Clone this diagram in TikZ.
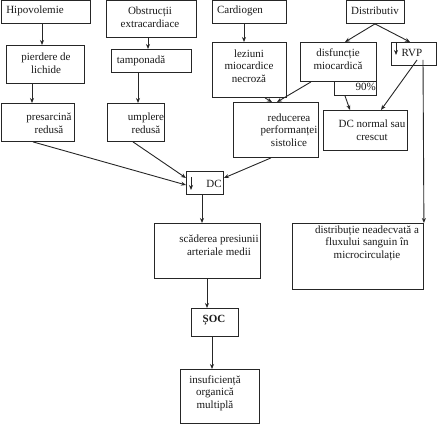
\documentclass[tikz,border=0pt]{standalone}
\usepackage{fontspec}
\setmainfont{Liberation Serif}
\usetikzlibrary{arrows.meta}
\newcommand\mybox[5]{\node[box, minimum width={#4-#2}, minimum height={#5-#3}] (#1) at (#2,#3) {};}
\begin{document}
\begin{tikzpicture}[x=1pt,y=-1pt,
 box/.style={draw=black!85, line width=0.9pt, rectangle, inner sep=0pt, anchor=north west, fill=white},
 txt/.style={align=center, inner sep=0pt, font=\fontsize{11}{12.6}\selectfont, text=black!90},
 arr/.style={-{Stealth[length=5pt,width=4pt]}, line width=0.9pt, draw=black!85}]
\useasboundingbox (0,0) rectangle (438,430);
% 90% box (partly hidden)
\mybox{p90}{334}{70}{376}{95}
\node[txt, anchor=base east] (tp90) at (376,90.5) {90\%};
% boxes
\mybox{hip}{0.5}{0}{90}{23}
\mybox{obs}{106}{0}{196}{37}
\mybox{card}{212}{0}{286}{23}
\mybox{dist}{346}{0}{404}{23}
\mybox{pier}{6}{45}{84}{83}
\mybox{tamp}{111}{49}{191}{72}
\mybox{lez}{212}{42}{286}{97}
\mybox{disf}{300}{42}{376}{81}
\mybox{rvp}{391}{42}{436}{65}
\mybox{pres}{1}{103}{74}{141}
\mybox{umpl}{107}{103}{164}{141}
\mybox{red}{233}{102}{318}{157}
\mybox{dcn}{323}{110}{407}{150}
\mybox{dc}{186}{171}{223}{194}
\mybox{scad}{154}{223}{260}{278}
\mybox{soc}{191}{308}{238}{336}
\mybox{insuf}{180}{369}{259}{423}
\mybox{distr}{292}{223}{423}{289}
% texts
\node[txt] (thip) at (35,11) {Hipovolemie};
\node[txt] (tobs) at (150,17) {Obstrucții\\extracardiace};
\node[txt] (tcard) at (240,11) {Cardiogen};
\node[txt] (tdist) at (375,11) {Distributiv};
\node[txt] (tpier) at (46,63) {pierdere de\\lichide};
\node[txt] (ttamp) at (141,61) {tamponadă};
\node[txt] (tlez) at (249,66) {leziuni\\miocardice\\necroză};
\node[txt] (tdisf) at (338,59) {disfuncție\\miocardică};
\node[txt] (trvp) at (412,53) {RVP};
\node[txt] (tpres) at (49,123) {presarcină\\redusă};
\node[txt] (tumpl) at (146,123) {umplere\\redusă};
\node[txt] (tred) at (289,130) {reducerea\\performanței\\sistolice};
\node[txt] (tdcn) at (372,130) {DC normal sau\\crescut};
\node[txt] (tdc) at (214,184) {DC};
\node[txt] (tscad) at (219,245) {scăderea presiunii\\arteriale medii};
\node[txt] (tsoc) at (214,320) {\bfseries ȘOC};
\node[txt] (tinsuf) at (215,393) {insuficiență\\organică\\multiplă};
\node[txt] (tdistr) at (367,243) {distribuție neadecvată a\\fluxului sanguin în\\microcirculație};
% inner small arrows
\coordinate (rvpa) at ([xshift=5pt,yshift=-1pt]rvp.north west);
\coordinate (rvpb) at ([xshift=5pt,yshift=-13pt]rvp.north west);
\draw[arr] (rvpa) -- (rvpb);
\coordinate (dca) at ([xshift=5pt,yshift=-6pt]dc.north west);
\coordinate (dcb) at ([xshift=5pt,yshift=-19pt]dc.north west);
\draw[arr] (dca) -- (dcb);
% connectors
\draw[arr] ([xshift=41.5pt]hip.south west) -- ([xshift=36pt]pier.north west);
\draw[arr] ([xshift=26pt]pier.south west) -- ([xshift=31pt]pres.north west);
\draw[arr] ([xshift=42pt]obs.south west) -- ([xshift=37pt]tamp.north west);
\draw[arr] ([xshift=27pt]tamp.south west) -- ([xshift=31pt]umpl.north west);
\draw[arr] ([xshift=32pt]card.south west) -- ([xshift=32pt]lez.north west);
\draw[arr] ([xshift=29pt]dist.south west) -- ([xshift=45pt]disf.north west);
\draw[arr] ([xshift=29pt]dist.south west) -- ([xshift=19pt]rvp.north west);
\draw[arr] ([xshift=53pt]lez.south west) -- ([xshift=39pt]red.north west);
\draw[arr] ([xshift=11pt]disf.south west) -- ([xshift=44pt]red.north west);
\draw[arr] ([xshift=11pt]p90.south west) -- ([xshift=27pt]dcn.north west);
\draw[arr] ([xshift=26pt,yshift=-18pt]rvp.north west) -- ([xshift=58pt]dcn.north west);
\draw[arr] ([xshift=32pt,yshift=-18pt]rvp.north west) -- (distr.north east);
\draw[arr] ([xshift=32pt]pres.south west) -- ([yshift=-14pt]dc.north west);
\draw[arr] ([xshift=26pt]umpl.south west) -- ([yshift=-7pt]dc.north west);
\draw[arr] ([xshift=38pt]red.south west) -- ([yshift=-7pt]dc.north east);
\draw[arr] ([xshift=16pt]dc.south west) -- ([xshift=48pt]scad.north west);
\draw[arr] ([xshift=53pt]scad.south west) -- ([xshift=16pt]soc.north west);
\draw[arr] ([xshift=21pt]soc.south west) -- ([xshift=32pt]insuf.north west);
\end{tikzpicture}
\end{document}
